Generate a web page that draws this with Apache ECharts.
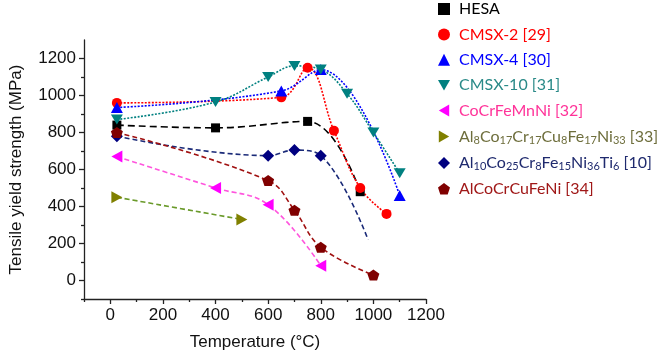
<!DOCTYPE html>
<html>
<head>
<meta charset="utf-8">
<script src="https://cdn.jsdelivr.net/npm/echarts@6/dist/echarts.min.js"></script>
<style>
  html, body { margin: 0; padding: 0; background: #fff; }
  #main { width: 666px; height: 360px; }
</style>
</head>
<body>
<div id="main"></div>
<script>
// temperatures (°C) and yield strengths (MPa)
var hesaT = [25, 400, 750, 950];
var hesaS = [840, 825, 860, 480];
var cmsx2T = [25, 650, 750, 850, 950, 1050];
var cmsx2S = [960, 990, 1150, 810, 500, 360];
var cmsx4T = [25, 650, 800, 1100];
var cmsx4S = [935, 1025, 1140, 460];
var cmsx10T = [25, 400, 600, 700, 800, 900, 1000, 1100];
var cmsx10S = [870, 965, 1100, 1160, 1140, 1010, 800, 580];
var cocrT = [25, 400, 600, 800];
var cocrS = [670, 500, 410, 80];
var al8T = [25, 500];
var al8S = [450, 330];
var al10T = [25, 600, 700, 800, 980];   // last point is the spline tail, no marker
var al10S = [780, 675, 705, 675, 220];
var alcoT = [25, 600, 700, 800, 1000];
var alcoS = [800, 540, 380, 180, 30];

var xMajor = [0, 200, 400, 600, 800, 1000, 1200];
var xMinor = [-100, 100, 300, 500, 700, 900, 1100];
var yMajor = [0, 200, 400, 600, 800, 1000, 1200];
var yMinor = [-100, 100, 300, 500, 700, 900, 1100];

var names = ['HESA', 'CMSX-2 [29]', 'CMSX-4 [30]', 'CMSX-10 [31]', 'CoCrFeMnNi [32]',
  'Al8Co17Cr17Cu8Fe17Ni33 [33]', 'Al10Co25Cr8Fe15Ni36Ti6 [10]', 'AlCoCrCuFeNi [34]'];
var richNames = {
  'Al8Co17Cr17Cu8Fe17Ni33 [33]': 'Al{s|8}Co{s|17}Cr{s|17}Cu{s|8}Fe{s|17}Ni{s|33} [33]',
  'Al10Co25Cr8Fe15Ni36Ti6 [10]': 'Al{s|10}Co{s|25}Cr{s|8}Fe{s|15}Ni{s|36}Ti{s|6} [10]'
};

var symDown = 'path://M0,0L2,0L1,1.732Z';
var symLeft = 'path://M0,1L1.732,0L1.732,2Z';
var symRight = 'path://M0,0L1.732,1L0,2Z';
var symDiamond = 'path://M1,0L2,1L1,2L0,1Z';
var symPenta = 'path://M1,0L1.951,0.691L1.588,1.809L0.412,1.809L0.049,0.691Z';

var axisFont = 'Arial, "Liberation Sans", sans-serif';

function pts(t, s) {
  return t.map(function (v, i) { return [v, s[i]]; });
}

var al10Data = pts(al10T, al10S);
al10Data[al10Data.length - 1] = { value: al10Data[al10Data.length - 1], symbol: 'none' };

function mkSeries(name, data, symbol, size, markColor, lineColor, lineType) {
  return {
    name: name, type: 'line', data: data, smooth: 0.4,
    symbol: symbol, symbolSize: size, showAllSymbol: true,
    itemStyle: { color: markColor },
    lineStyle: { color: lineColor, width: 1.6, type: lineType },
    emphasis: { disabled: true }
  };
}

var series = [
  mkSeries(names[0], pts(hesaT, hesaS), 'rect', 9, '#000000', '#000000', [7, 4]),
  mkSeries(names[1], pts(cmsx2T, cmsx2S), 'circle', 10, '#ff0000', '#ff0000', [2, 1.5]),
  mkSeries(names[2], pts(cmsx4T, cmsx4S), 'triangle', [12, 11], '#0000ff', '#0000ff', [2, 1.5]),
  mkSeries(names[3], pts(cmsx10T, cmsx10S), symDown, [12, 10], '#008080', '#008080', [2, 1.5]),
  mkSeries(names[4], pts(cocrT, cocrS), symLeft, [11, 12], '#ff00ff', '#ff55dd', [5, 3]),
  mkSeries(names[5], pts(al8T, al8S), symRight, [11, 12], '#808000', '#6a9a2a', [5, 3]),
  mkSeries(names[6], al10Data, symDiamond, [12, 12], '#000080', '#1a2a78', [5, 3]),
  mkSeries(names[7], pts(alcoT, alcoS), symPenta, [12, 11], '#800000', '#a01010', [5, 3])
];

var legendIcons = ['rect', 'circle', 'triangle', symDown, symLeft, symRight, symDiamond, symPenta];
var legendColors = ['#000000', '#ff0000', '#0000ff', '#2a8a88', '#ff3399', '#6e6e3c', '#1f2a6e', '#a01818'];

var chart = echarts.init(document.getElementById('main'));
chart.setOption({
  animation: false,
  grid: { left: 79, right: 240, top: 40, bottom: 61 },
  legend: {
    orient: 'vertical', left: 438, top: 0, padding: 0,
    itemWidth: 12, itemHeight: 12, itemGap: 7.4,
    selectedMode: false,
    data: names.map(function (n, i) {
      return { name: n, icon: legendIcons[i], textStyle: { color: legendColors[i] } };
    }),
    formatter: function (n) { return richNames[n] || n; },
    textStyle: {
      fontFamily: 'Lato', fontSize: 16, lineHeight: 18, padding: [0, 0, 0, 4],
      rich: { s: { fontSize: 11, lineHeight: 18, padding: [8, 0, 0, 0] } }
    }
  },
  xAxis: [{
    type: 'value', min: -100, max: 1200, interval: 100,
    name: 'Temperature (°C)', nameLocation: 'middle', nameGap: 35,
    nameTextStyle: { fontFamily: axisFont, fontSize: 17, color: '#111' },
    axisLine: { onZero: false, lineStyle: { color: '#222', width: 1.3 } },
    axisTick: { customValues: xMajor, length: 5, lineStyle: { color: '#222', width: 1.3 } },
    axisLabel: {
      customValues: xMajor, margin: 8, fontFamily: axisFont, fontSize: 17, color: '#111',
      formatter: function (v) { return String(v); }
    },
    splitLine: { show: false }
  }, {
    type: 'value', min: -100, max: 1200, interval: 100, position: 'bottom',
    axisLine: { show: false, onZero: false },
    axisTick: { customValues: xMinor, length: 3, lineStyle: { color: '#222', width: 1.3 } },
    axisLabel: { show: false },
    splitLine: { show: false }
  }],
  yAxis: [{
    type: 'value', min: -100, max: 1300, interval: 100,
    name: 'Tensile yield strength (MPa)', nameLocation: 'middle', nameGap: 59,
    nameTextStyle: { fontFamily: axisFont, fontSize: 17, color: '#111' },
    axisLine: { show: true, onZero: false, lineStyle: { color: '#222', width: 1.3 } },
    axisTick: { show: true, customValues: yMajor, length: 5, lineStyle: { color: '#222', width: 1.3 } },
    axisLabel: {
      customValues: yMajor, margin: 8, fontFamily: axisFont, fontSize: 17, color: '#111',
      formatter: function (v) { return String(v); }
    },
    splitLine: { show: false }
  }, {
    type: 'value', min: -100, max: 1300, interval: 100, position: 'left',
    axisLine: { show: false, onZero: false },
    axisTick: { show: true, customValues: yMinor, length: 3, lineStyle: { color: '#222', width: 1.3 } },
    axisLabel: { show: false },
    splitLine: { show: false }
  }],
  series: series
});
</script>
</body>
</html>
